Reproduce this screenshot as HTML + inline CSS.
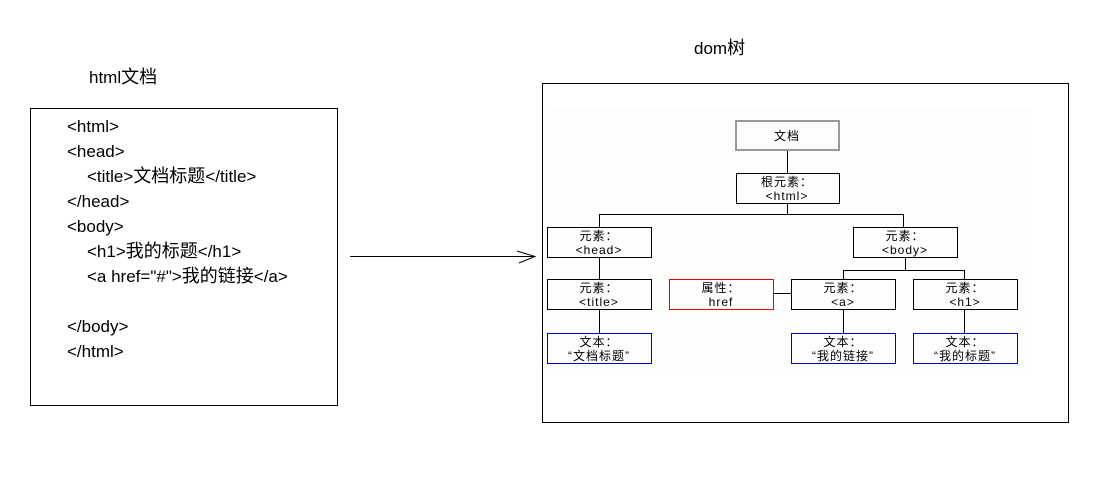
<!DOCTYPE html>
<html><head><meta charset="utf-8"><style>
body{margin:0;background:#fff;width:1115px;height:482px;overflow:hidden}
svg{display:block}
.t{font-family:"Liberation Sans","Noto Sans CJK SC",sans-serif;font-size:17px;fill:#000}
.c{font-size:18px}
.s{font-family:"Liberation Sans","Noto Sans CJK SC",sans-serif;font-size:12px;fill:#000;text-anchor:middle;letter-spacing:1px}
</style></head><body>
<svg width="1115" height="482" xmlns="http://www.w3.org/2000/svg">
<text class="t" x="89" y="83">html<tspan class="c">文档</tspan></text>
<text class="t" x="694" y="54">dom<tspan class="c">树</tspan></text>
<rect x="30.5" y="108.5" width="307" height="297" fill="none" stroke="#000"/>
<g class="t">
<text x="67" y="132">&lt;html&gt;</text>
<text x="67" y="157">&lt;head&gt;</text>
<text x="87" y="182">&lt;title&gt;<tspan class="c">文档标题</tspan>&lt;/title&gt;</text>
<text x="67" y="207">&lt;/head&gt;</text>
<text x="67" y="232">&lt;body&gt;</text>
<text x="87" y="257">&lt;h1&gt;<tspan class="c">我的标题</tspan>&lt;/h1&gt;</text>
<text x="87" y="282">&lt;a href="#"&gt;<tspan class="c">我的链接</tspan>&lt;/a&gt;</text>
<text x="67" y="332">&lt;/body&gt;</text>
<text x="67" y="357">&lt;/html&gt;</text>
</g>
<line x1="350" y1="256.5" x2="535" y2="256.5" stroke="#000"/>
<polyline points="517,251 535,256.5 519,263" fill="none" stroke="#000"/>
<rect x="542.5" y="83.5" width="526" height="339" fill="none" stroke="#000"/>
<rect x="546" y="108" width="486" height="268" fill="#fdfdfb"/>
<g stroke="#000" fill="none">
<line x1="787.5" y1="150" x2="787.5" y2="173"/>
<line x1="787.5" y1="203" x2="787.5" y2="214"/>
<line x1="599.5" y1="214.5" x2="903.5" y2="214.5"/>
<line x1="599.5" y1="214" x2="599.5" y2="227"/>
<line x1="903.5" y1="214" x2="903.5" y2="227"/>
<line x1="599.5" y1="257" x2="599.5" y2="279"/>
<line x1="599.5" y1="309" x2="599.5" y2="333"/>
<line x1="905.5" y1="257" x2="905.5" y2="270"/>
<line x1="843.5" y1="270.5" x2="964.5" y2="270.5"/>
<line x1="843.5" y1="270" x2="843.5" y2="279"/>
<line x1="964.5" y1="270" x2="964.5" y2="279"/>
<line x1="773" y1="293.5" x2="791" y2="293.5"/>
<line x1="843.5" y1="309" x2="843.5" y2="333"/>
<line x1="964.5" y1="309" x2="964.5" y2="333"/>
<rect x="736" y="121" width="103" height="29" stroke="#999" stroke-width="2"/>
<rect x="736.5" y="173.5" width="103" height="30"/>
<rect x="547.5" y="227.5" width="104" height="30"/>
<rect x="853.5" y="227.5" width="104" height="30"/>
<rect x="547.5" y="279.5" width="104" height="30"/>
<rect x="669.5" y="279.5" width="104" height="30" stroke="#e00"/>
<rect x="791.5" y="279.5" width="104" height="30"/>
<rect x="913.5" y="279.5" width="104" height="30"/>
<rect x="547.5" y="333.5" width="104" height="30" stroke="#00c"/>
<rect x="791.5" y="333.5" width="104" height="30" stroke="#00c"/>
<rect x="913.5" y="333.5" width="104" height="30" stroke="#00c"/>
</g>
<text class="s" x="787" y="140">文档</text>
<text class="s" x="787" y="186">根元素：</text><text class="s" x="787" y="200">&lt;html&gt;</text>
<text class="s" x="599" y="240">元素：</text><text class="s" x="599" y="254">&lt;head&gt;</text>
<text class="s" x="905" y="240">元素：</text><text class="s" x="905" y="254">&lt;body&gt;</text>
<text class="s" x="599" y="292">元素：</text><text class="s" x="599" y="306">&lt;title&gt;</text>
<text class="s" x="721" y="292">属性：</text><text class="s" x="721" y="306">href</text>
<text class="s" x="843" y="292">元素：</text><text class="s" x="843" y="306">&lt;a&gt;</text>
<text class="s" x="965" y="292">元素：</text><text class="s" x="965" y="306">&lt;h1&gt;</text>
<text class="s" x="599" y="346">文本：</text><text class="s" x="599" y="360">“文档标题”</text>
<text class="s" x="843" y="346">文本：</text><text class="s" x="843" y="360">“我的链接”</text>
<text class="s" x="965" y="346">文本：</text><text class="s" x="965" y="360">“我的标题”</text>
</svg>
</body></html>
